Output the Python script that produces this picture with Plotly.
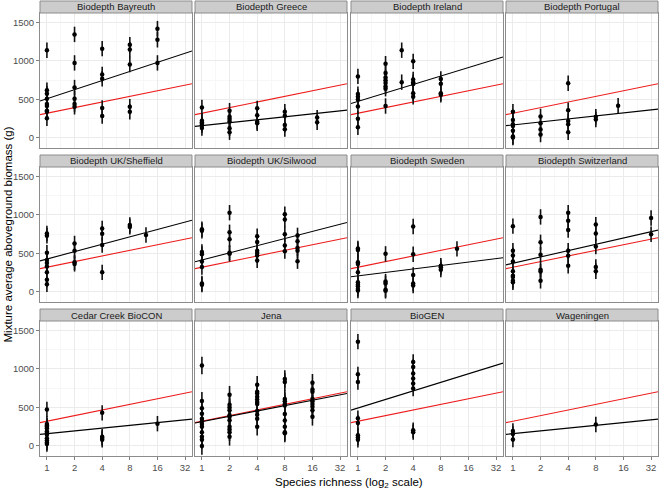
import math
import plotly.graph_objects as go

# ---------------- data ----------------
panel_names = ["Biodepth Bayreuth", "Biodepth Greece", "Biodepth Ireland", "Biodepth Portugal",
               "Biodepth UK/Sheffield", "Biodepth UK/Silwood", "Biodepth Sweden", "Biodepth Switzerland",
               "Cedar Creek BioCON", "Jena", "BioGEN", "Wageningen"]

bayreuth = {1: [1140, 620, 575, 510, 440, 415, 355, 340, 255],
            2: [1345, 975, 655, 510, 440, 405],
            4: [1160, 825, 770, 390, 285],
            8: [1210, 1150, 955, 405, 340],
            16: [1420, 1275, 975]}
greece = {1: [395, 225, 205, 185, 165, 130],
          2: [355, 275, 245, 215, 125, 75],
          4: [385, 295, 210, 190],
          8: [340, 290, 170, 115],
          18: [265, 205]}
ireland = {1: [800, 570, 535, 500, 410, 250, 140],
           2: [965, 845, 785, 750, 715, 670, 640, 415],
           3: [1140, 725],
           4: [995, 760, 725, 700, 580, 535],
           8: [765, 705, 580, 560]}
portugal = {1: [340, 235, 180, 155, 95, 20, 5],
            2: [280, 190, 110, 45],
            4: [710, 360, 220, 180, 75],
            8: [275, 240],
            14: [420]}
sheffield = {1: [760, 730, 510, 415, 375, 330, 255, 160, 100],
             2: [630, 535, 385, 365],
             4: [825, 755, 610, 255],
             8: [870, 845],
             12: [740]}
silwood = {1: [815, 795, 520, 490, 395, 325, 110, 95],
           2: [1030, 775, 685, 510, 495],
           4: [725, 650, 535, 505, 475, 410],
           8: [1010, 940, 750, 605, 530],
           11: [735, 660, 570, 535, 400]}
sweden = {1: [565, 545, 385, 365, 255, 125, 95, 75, 40, 20],
          2: [495, 135, 110, 30, 15],
          4: [850, 490, 220, 110, 85],
          8: [340, 320, 290],
          12: [560]}
switzerland = {1: [855, 535, 475, 395, 270, 210, 195, 145, 125],
               2: [975, 645, 485, 290, 265, 145],
               4: [1030, 925, 805, 535, 470, 340],
               8: [875, 760, 590, 325, 270],
               32: [960, 750]}
cedar_creek = {1: [475, 285, 265, 250, 230, 190, 170, 145, 100, 70, 45, 25],
               4: [430, 120, 105, 80],
               16: [290]}
jena = {1: [1045, 585, 490, 420, 355, 320, 285, 250, 180, 120, 80, 0],
        2: [665, 535, 500, 465, 400, 380, 335, 250, 215, 180, 120],
        4: [795, 705, 680, 640, 605, 570, 545, 455, 405, 355, 250],
        8: [870, 830, 610, 580, 545, 525, 415, 330, 250, 180, 165],
        16: [820, 735, 705, 610, 580, 545, 510, 465, 380]}
biogen = {1: [1355, 930, 830, 360, 300, 140, 110, 80],
          4: [1090, 1025, 940, 875, 810, 745, 205, 180]}
wageningen = {1: [195, 155, 85],
              8: [280]}

panel_data = [bayreuth, greece, ireland, portugal, sheffield, silwood,
              sweden, switzerland, cedar_creek, jena, biogen, wageningen]

# error (+/-) per panel
panel_error = [100, 100, 100, 100, 100, 100, 100, 100, 100, 115, 100, 100]

# fitted lines: biomass = intercept + slope * log2(richness)
site_intercept = [510, 160, 475, 170, 428, 415, 209, 373, 160, 315, 493, 160]
site_slope = [118, 38.5, 110, 39, 96, 93, 45, 82, 36, 70, 111, 36]
overall_intercept = 322
overall_slope = 73

x_ticks = [1, 2, 4, 8, 16, 32]
y_ticks = [0, 500, 1000, 1500]

# ---------------- layout geometry ----------------
W, H = 661, 492
col_px = [(40, 192), (195, 347), (351, 503), (506, 658)]
row_px = [(13, 148), (167, 302), (321, 456)]
strip_h = 12
FONT = "Liberation Sans, Arial, Helvetica, sans-serif"

x_lo, x_hi = -0.25, 5.25  # log2 units
x_range = [x_lo * math.log10(2), x_hi * math.log10(2)]
y_range = [-130, 1623]

fig = go.Figure()
shapes = []
annotations = []

for i, (name, data) in enumerate(zip(panel_names, panel_data)):
    r, c = divmod(i, 4)
    sfx = "" if i == 0 else str(i + 1)
    xa, ya = "x" + sfx, "y" + sfx

    xs, ys = [], []
    for rich, vals in data.items():
        for v in vals:
            xs.append(rich)
            ys.append(v)

    # lines (full-width ablines)
    lx = [2 ** x_lo, 2 ** x_hi]
    fig.add_trace(go.Scatter(x=lx, y=[overall_intercept + overall_slope * math.log2(v) for v in lx],
                             mode="lines", line=dict(color="#ee1c1c", width=1.1),
                             xaxis=xa, yaxis=ya, showlegend=False, hoverinfo="skip"))
    fig.add_trace(go.Scatter(x=lx, y=[site_intercept[i] + site_slope[i] * math.log2(v) for v in lx],
                             mode="lines", line=dict(color="black", width=1.1),
                             xaxis=xa, yaxis=ya, showlegend=False, hoverinfo="skip"))
    # points with error bars
    fig.add_trace(go.Scatter(x=xs, y=ys, mode="markers",
                             marker=dict(color="black", size=4.5, symbol="circle"),
                             error_y=dict(type="data", array=[panel_error[i]] * len(ys), visible=True,
                                          width=0, thickness=1.6, color="#111111"),
                             xaxis=xa, yaxis=ya, showlegend=False))

    x0, x1 = col_px[c]
    y0, y1 = row_px[r]
    xdom = [x0 / W, x1 / W]
    ydom = [1 - y1 / H, 1 - y0 / H]

    fig.layout["xaxis" + sfx] = dict(
        domain=xdom, anchor=ya, type="log", range=x_range,
        tickmode="array", tickvals=x_ticks, ticktext=[str(t) for t in x_ticks],
        showticklabels=(r == 2), ticks="outside" if r == 2 else "", ticklen=3, tickcolor="#7f7f7f",
        tickfont=dict(family=FONT, size=9.5, color="#4d4d4d"),
        showgrid=True, gridcolor="#ebebeb", gridwidth=1,
        minor=dict(tickmode="array", tickvals=[2 ** (k + 0.5) for k in range(-1, 6)],
                   showgrid=True, gridcolor="#f7f7f7", gridwidth=1),
        showline=True, mirror=True, linecolor="#8c8c8c", linewidth=1, zeroline=False,
    )
    fig.layout["yaxis" + sfx] = dict(
        domain=ydom, anchor=xa, range=y_range,
        tickmode="array", tickvals=y_ticks, ticktext=[str(t) for t in y_ticks],
        showticklabels=(c == 0), ticks="outside" if c == 0 else "", ticklen=3, tickcolor="#7f7f7f",
        tickfont=dict(family=FONT, size=9.5, color="#4d4d4d"),
        showgrid=True, gridcolor="#ebebeb", gridwidth=1,
        minor=dict(tickmode="array", tickvals=[250, 750, 1250],
                   showgrid=True, gridcolor="#f7f7f7", gridwidth=1),
        showline=True, mirror=True, linecolor="#8c8c8c", linewidth=1, zeroline=False,
    )

    # strip
    sy0 = 1 - y0 / H
    sy1 = 1 - (y0 - strip_h) / H
    shapes.append(dict(type="rect", xref="paper", yref="paper", x0=xdom[0], x1=xdom[1],
                       y0=sy0, y1=sy1, fillcolor="#cccccc", line=dict(color="#8c8c8c", width=1),
                       layer="above"))
    annotations.append(dict(text=name, xref="paper", yref="paper", x=(xdom[0] + xdom[1]) / 2,
                            y=(sy0 + sy1) / 2, xanchor="center", yanchor="middle", showarrow=False,
                            font=dict(family=FONT, size=9.5, color="#1a1a1a")))

annotations.append(dict(text="Species richness (log<sub>2</sub> scale)", xref="paper", yref="paper",
                        x=349 / W, y=1 - 483 / H, xanchor="center", yanchor="middle", showarrow=False,
                        font=dict(family=FONT, size=11.5, color="black")))
annotations.append(dict(text="Mixture average aboveground biomass (g)", xref="paper", yref="paper",
                        x=8 / W, y=1 - 234.5 / H, xanchor="center", yanchor="middle", showarrow=False,
                        textangle=-90, font=dict(family=FONT, size=11.5, color="black")))

fig.update_layout(width=W, height=H, margin=dict(l=0, r=0, t=0, b=0),
                  paper_bgcolor="white", plot_bgcolor="white",
                  shapes=shapes, annotations=annotations, showlegend=False)

fig.write_html("out.html", config={"displayModeBar": False},
               post_script="document.body.style.margin='0';document.body.style.overflow='hidden';")
